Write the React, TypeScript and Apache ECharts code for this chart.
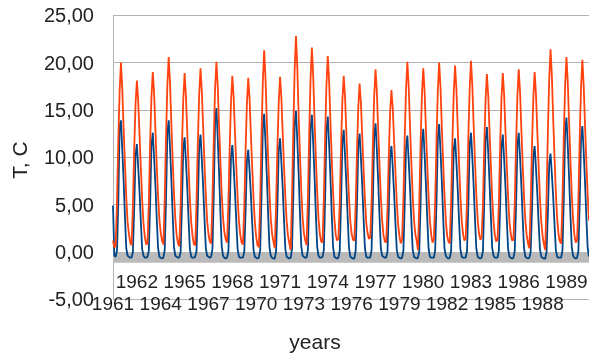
import React, { useEffect, useRef } from "react";
import * as echarts from "echarts";

const years = [
  1961, 1962, 1963, 1964, 1965, 1966, 1967, 1968, 1969, 1970,
  1971, 1972, 1973, 1974, 1975, 1976, 1977, 1978, 1979, 1980,
  1981, 1982, 1983, 1984, 1985, 1986, 1987, 1988, 1989, 1990,
];
const months = ["01", "02", "03", "04", "05", "06", "07", "08", "09", "10", "11", "12"];

// monthly values, one row per year (Jan..Dec)
const blueSeries: number[][] = [
  [4.9, -0.4, -0.5, 0.1, 5.2, 13.3, 13.9, 10.8, 7.6, 3.8, 0.4, -0.4],
  [-0.5, -0.6, -0.6, 0.0, 4.6, 10.2, 11.4, 9.0, 6.4, 3.2, 0.3, -0.4],
  [-0.6, -0.6, -0.5, 0.1, 5.0, 11.2, 12.6, 10.0, 7.0, 3.5, 0.4, -0.5],
  [-0.6, -0.7, -0.6, 0.2, 5.6, 12.6, 13.9, 11.0, 7.7, 3.9, 0.5, -0.4],
  [-0.5, -0.6, -0.6, 0.0, 4.9, 10.9, 12.1, 9.6, 6.8, 3.4, 0.3, -0.5],
  [-0.6, -0.6, -0.5, 0.1, 5.0, 11.1, 12.4, 9.8, 6.9, 3.5, 0.4, -0.4],
  [-0.5, -0.6, -0.5, 0.3, 6.1, 13.8, 15.2, 12.0, 8.4, 4.2, 0.6, -0.4],
  [-0.6, -0.7, -0.6, 0.0, 4.5, 10.1, 11.3, 9.0, 6.3, 3.2, 0.3, -0.5],
  [-0.6, -0.6, -0.6, 0.0, 4.3, 9.6, 10.8, 8.6, 6.0, 3.0, 0.2, -0.5],
  [-0.6, -0.7, -0.6, 0.2, 5.9, 13.2, 14.6, 11.6, 8.1, 4.0, 0.5, -0.4],
  [-0.6, -0.7, -0.7, 0.1, 4.8, 10.8, 12.0, 9.5, 6.7, 3.3, 0.3, -0.5],
  [-0.6, -0.7, -0.6, 0.3, 6.0, 13.5, 14.9, 11.8, 8.3, 4.1, 0.6, -0.4],
  [-0.5, -0.6, -0.6, 0.2, 5.8, 13.1, 14.5, 11.5, 8.0, 4.0, 0.5, -0.4],
  [-0.6, -0.6, -0.5, 0.2, 5.7, 12.9, 14.3, 11.3, 7.9, 3.9, 0.5, -0.5],
  [-0.6, -0.7, -0.6, 0.1, 5.2, 11.6, 12.9, 10.2, 7.2, 3.6, 0.4, -0.5],
  [-0.6, -0.7, -0.7, 0.1, 5.0, 11.2, 12.5, 9.9, 6.9, 3.5, 0.4, -0.5],
  [-0.6, -0.6, -0.6, 0.2, 5.4, 12.2, 13.6, 10.8, 7.5, 3.8, 0.4, -0.4],
  [-0.5, -0.6, -0.6, 0.0, 4.5, 10.0, 11.2, 8.9, 6.2, 3.1, 0.3, -0.5],
  [-0.6, -0.7, -0.6, 0.1, 4.9, 11.0, 12.3, 9.7, 6.8, 3.4, 0.3, -0.5],
  [-0.6, -0.7, -0.6, 0.1, 5.2, 11.7, 13.0, 10.3, 7.2, 3.6, 0.4, -0.5],
  [-0.6, -0.6, -0.6, 0.2, 5.4, 12.1, 13.5, 10.7, 7.5, 3.7, 0.4, -0.4],
  [-0.6, -0.7, -0.6, 0.1, 4.8, 10.8, 12.0, 9.5, 6.6, 3.3, 0.3, -0.5],
  [-0.6, -0.6, -0.6, 0.1, 5.0, 11.3, 12.6, 10.0, 7.0, 3.5, 0.4, -0.5],
  [-0.6, -0.7, -0.6, 0.1, 5.3, 11.9, 13.2, 10.5, 7.3, 3.7, 0.4, -0.4],
  [-0.6, -0.6, -0.6, 0.1, 4.9, 11.1, 12.4, 9.8, 6.9, 3.4, 0.3, -0.5],
  [-0.6, -0.7, -0.6, 0.1, 5.0, 11.3, 12.6, 10.0, 7.0, 3.5, 0.4, -0.5],
  [-0.6, -0.7, -0.6, 0.0, 4.5, 10.0, 11.2, 8.9, 6.2, 3.1, 0.3, -0.5],
  [-0.6, -0.7, -0.7, 0.0, 4.2, 9.3, 10.4, 8.2, 5.8, 2.9, 0.2, -0.5],
  [-0.6, -0.6, -0.6, 0.2, 5.7, 12.8, 14.2, 11.2, 7.8, 3.9, 0.5, -0.4],
  [-0.6, -0.7, -0.6, 0.1, 5.3, 12.0, 13.3, 10.6, 7.4, 3.7, 0.4, -0.5],
];

const orangeSeries: number[][] = [
  [1.2, 0.5, 0.6, 5.2, 11.8, 17.0, 20.0, 17.2, 13.0, 9.4, 5.8, 3.2],
  [1.9, 1.0, 0.7, 4.8, 10.9, 15.6, 18.1, 16.0, 12.4, 8.8, 5.5, 3.0],
  [1.6, 0.8, 0.9, 5.0, 11.5, 16.4, 19.0, 16.8, 12.9, 9.1, 5.9, 3.4],
  [2.0, 1.2, 0.8, 5.6, 12.2, 17.6, 20.6, 17.9, 13.6, 9.8, 6.2, 3.5],
  [1.8, 0.9, 0.6, 4.9, 11.2, 16.1, 18.9, 16.5, 12.7, 9.0, 5.6, 3.1],
  [1.7, 0.8, 0.7, 5.3, 11.6, 16.6, 19.4, 17.0, 13.1, 9.3, 6.0, 3.3],
  [1.9, 1.1, 0.9, 5.5, 12.0, 17.3, 20.1, 17.5, 13.3, 9.6, 6.1, 3.6],
  [2.1, 1.3, 1.0, 5.0, 11.0, 15.9, 18.6, 16.4, 12.6, 9.0, 5.7, 3.2],
  [1.8, 1.0, 0.8, 4.7, 10.8, 15.7, 18.4, 16.2, 12.4, 8.9, 5.6, 3.1],
  [1.6, 0.7, 0.5, 5.4, 12.3, 18.0, 21.3, 18.4, 13.9, 9.9, 6.3, 3.5],
  [1.9, 1.1, 0.4, 4.9, 11.1, 15.8, 18.5, 16.3, 12.5, 9.0, 5.7, 3.2],
  [1.7, 0.9, 0.2, 5.8, 13.0, 19.2, 22.8, 19.5, 14.5, 10.3, 6.5, 3.6],
  [2.0, 1.2, 0.7, 5.7, 12.6, 18.3, 21.6, 18.6, 14.0, 10.0, 6.3, 3.5],
  [1.9, 1.1, 1.0, 5.6, 12.3, 17.7, 20.7, 18.0, 13.7, 9.8, 6.2, 3.4],
  [1.8, 1.2, 1.4, 5.1, 11.2, 16.0, 18.6, 16.4, 12.6, 9.0, 5.7, 3.2],
  [1.9, 1.3, 1.2, 4.8, 10.6, 15.3, 17.8, 15.7, 12.1, 8.7, 5.5, 3.1],
  [2.0, 1.4, 1.5, 5.2, 11.5, 16.5, 19.3, 16.9, 12.9, 9.2, 5.8, 3.3],
  [1.8, 1.1, 1.0, 4.5, 10.2, 14.8, 17.1, 15.2, 11.8, 8.5, 5.3, 3.0],
  [1.7, 0.9, 1.3, 5.4, 12.0, 17.2, 20.1, 17.5, 13.3, 9.5, 6.0, 3.4],
  [1.9, 1.2, 0.2, 5.2, 11.6, 16.6, 19.4, 17.0, 13.0, 9.3, 5.9, 3.3],
  [1.8, 1.0, 1.3, 5.5, 11.9, 17.1, 20.0, 17.4, 13.2, 9.5, 6.0, 3.4],
  [1.7, 1.1, 0.9, 5.3, 11.8, 16.9, 19.7, 17.2, 13.1, 9.4, 5.9, 3.3],
  [1.9, 1.2, 1.4, 5.6, 12.1, 17.3, 20.2, 17.6, 13.4, 9.6, 6.1, 3.5],
  [2.0, 1.3, 1.5, 5.0, 11.2, 16.1, 18.8, 16.5, 12.7, 9.1, 5.7, 3.2],
  [1.8, 1.1, 1.3, 5.1, 11.3, 16.2, 18.9, 16.6, 12.7, 9.1, 5.8, 3.2],
  [1.9, 1.2, 1.3, 5.2, 11.5, 16.5, 19.3, 16.9, 12.9, 9.2, 5.8, 3.3],
  [1.8, 0.9, 0.4, 5.0, 11.3, 16.2, 19.0, 16.7, 12.8, 9.1, 5.7, 3.2],
  [1.7, 0.8, 0.2, 5.9, 12.8, 18.3, 21.4, 18.6, 14.0, 10.0, 6.3, 3.5],
  [1.9, 1.1, 0.9, 5.6, 12.3, 17.6, 20.6, 17.9, 13.6, 9.7, 6.1, 3.4],
  [1.8, 1.0, 1.2, 5.5, 12.1, 17.4, 20.3, 17.6, 13.4, 9.5, 6.0, 3.3],
];

const yMin = -5;
const yMax = 25;
const yStep = 5;
const bandBottom = -1.15;

const FONT = "'Liberation Sans', Arial, sans-serif";
const TEXT = "#222222";
const GRID = "#b3b3b3";

export default function App() {
  const ref = useRef<HTMLDivElement>(null);
  useEffect(() => {
    if (!ref.current) return;
    const chart = echarts.init(ref.current, null, { renderer: "svg" });
    const categories = years.flatMap((y) => months.map((m) => `${y}-${m}`));
    const blue = blueSeries.flat();
    const orange = orangeSeries.flat();
    const labelAxis = (phase: number, margin: number) => ({
      type: "category",
      position: "bottom",
      data: categories,
      boundaryGap: false,
      offset: -47.3,
      axisLine: { show: false, onZero: false },
      axisTick: { show: false },
      splitLine: { show: false },
      axisLabel: {
        interval: (i: number) => i % 36 === phase,
        showMinLabel: true,
        showMaxLabel: true,
        hideOverlap: false,
        margin,
        fontSize: 19,
        color: TEXT,
        fontFamily: FONT,
        formatter: (v: string) => v.slice(0, 4),
      },
    });
    chart.setOption({
      animation: false,
      grid: {
        left: 113,
        right: 0,
        top: 15.3,
        bottom: 56.7,
        containLabel: false,
        outerBoundsMode: "none",
      },
      xAxis: [labelAxis(18, 20), labelAxis(0, 42)],
      yAxis: {
        type: "value",
        min: yMin,
        max: yMax,
        interval: yStep,
        axisLine: { show: true, lineStyle: { color: GRID, width: 1 } },
        axisTick: { show: false },
        splitLine: { show: true, lineStyle: { color: GRID, width: 1 } },
        axisLabel: {
          margin: 19,
          fontSize: 20,
          color: TEXT,
          fontFamily: FONT,
          formatter: (v: number) => v.toFixed(2).replace(".", ","),
        },
      },
      graphic: [
        {
          type: "text",
          x: 19,
          y: 160,
          rotation: Math.PI / 2,
          style: {
            text: "T, C",
            fontSize: 21,
            fontFamily: FONT,
            fill: TEXT,
            textAlign: "center",
            textVerticalAlign: "middle",
          },
        },
        {
          type: "text",
          x: 315,
          y: 341,
          style: {
            text: "years",
            fontSize: 21,
            fontFamily: FONT,
            fill: TEXT,
            textAlign: "center",
            textVerticalAlign: "middle",
          },
        },
      ],
      series: [
        {
          type: "line",
          name: "band",
          data: [],
          z: 1,
          silent: true,
          markArea: {
            silent: true,
            itemStyle: { color: "#bababa" },
            data: [[{ yAxis: 0 }, { yAxis: bandBottom }]],
          },
        },
        {
          type: "line",
          name: "blue",
          data: blue,
          showSymbol: false,
          z: 3,
          lineStyle: { color: "#004586", width: 1.8 },
          itemStyle: { color: "#004586" },
        },
        {
          type: "line",
          name: "orange",
          data: orange,
          showSymbol: false,
          z: 4,
          lineStyle: { color: "#ff420e", width: 1.8 },
          itemStyle: { color: "#ff420e" },
        },
      ],
    });
    return () => chart.dispose();
  }, []);
  return (
    <div
      ref={ref}
      style={{ position: "fixed", left: 0, top: 0, width: 589, height: 356 }}
    />
  );
}
